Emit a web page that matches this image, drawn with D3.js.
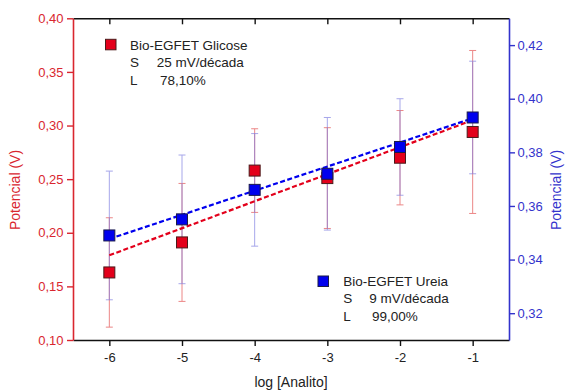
<!DOCTYPE html>
<html>
<head>
<meta charset="utf-8">
<script src="https://cdn.jsdelivr.net/npm/d3@7/dist/d3.min.js"></script>
<style>
  html, body { margin: 0; padding: 0; background: #fff; }
  svg { display: block; font-family: "Liberation Sans", Arial, sans-serif; }
</style>
</head>
<body>
<svg id="chart" width="565" height="391"></svg>
<script>
// ---- data ----
const logConc = [-6, -5, -4, -3, -2, -1];
const glicose = [0.163, 0.191, 0.258, 0.251, 0.270, 0.294];
const glicoseErr = [0.051, 0.055, 0.039, 0.047, 0.044, 0.076];
const ureia = [0.349, 0.355, 0.366, 0.372, 0.382, 0.393];
const ureiaErr = [0.024, 0.024, 0.021, 0.021, 0.018, 0.021];
const fitX = [-6, -1];
const glicoseFit = [0.179, 0.305];
const ureiaFit = [0.3477, 0.3927];
const xTicks = [-6, -5, -4, -3, -2, -1];
const leftTicks = [0.10, 0.15, 0.20, 0.25, 0.30, 0.35, 0.40];
const rightTicks = [0.32, 0.34, 0.36, 0.38, 0.40, 0.42];
const legendGlicose = ["Bio-EGFET Glicose", "S", "25 mV/década", "L", "78,10%"];
const legendUreia = ["Bio-EGFET Ureia", "S", "9 mV/década", "L", "99,00%"];
const xTitle = "log [Analito]";
const yTitle = "Potencial (V)";

// ---- layout ----
const L = 73, R = 509, T = 18.3, B = 340;
const RED = "#e3001b", BLUE = "#0000ee";
const RED_AX = "#d9262f", BLUE_AX = "#3333cc";

const svg = d3.select("#chart");
const x = d3.scaleLinear().domain([-6.5, -0.5]).range([L, R]);
const yL = d3.scaleLinear().domain([0.10, 0.40]).range([B, T]);
const yR = d3.scaleLinear().domain([0.31, 0.43]).range([B, T]);
const fmt = d3.formatLocale({decimal: ",", thousands: ".", grouping: [3], currency: ["", ""]}).format(".2f");

// ---- axes ----
const gB = svg.append("g").attr("transform", `translate(0,${B})`)
  .call(d3.axisBottom(x).tickValues(xTicks).tickSize(6).tickPadding(6.5).tickSizeOuter(0).tickFormat(d3.format("d")));
gB.select(".domain").attr("stroke", "#111").attr("stroke-width", 1.6);
gB.selectAll(".tick line").attr("stroke", "#111").attr("stroke-width", 1.4);
gB.selectAll(".tick text").attr("fill", "#222").attr("font-size", 13).attr("font-family", "Liberation Sans, Arial, sans-serif")
  .text(d => d3.format("d")(d).replace("−", "-"));

const gT = svg.append("g").attr("transform", `translate(0,${T})`)
  .call(d3.axisTop(x).tickValues(xTicks).tickSize(-6).tickSizeOuter(0).tickFormat(""));
gT.select(".domain").attr("stroke", "#111").attr("stroke-width", 1.6);
gT.selectAll(".tick line").attr("stroke", "#111").attr("stroke-width", 1.4);

const gL = svg.append("g").attr("transform", `translate(${L},0)`)
  .call(d3.axisLeft(yL).tickValues(leftTicks).tickSize(6).tickPadding(3.5).tickSizeOuter(0).tickFormat(fmt));
gL.select(".domain").attr("stroke", RED_AX).attr("stroke-width", 1.6);
gL.selectAll(".tick line").attr("stroke", RED_AX).attr("stroke-width", 1.4);
gL.selectAll(".tick text").attr("fill", RED_AX).attr("font-size", 13).attr("font-family", "Liberation Sans, Arial, sans-serif");

const gR = svg.append("g").attr("transform", `translate(${R},0)`)
  .call(d3.axisRight(yR).tickValues(rightTicks).tickSize(6).tickPadding(2.5).tickSizeOuter(0).tickFormat(fmt));
gR.select(".domain").attr("stroke", BLUE_AX).attr("stroke-width", 1.6);
gR.selectAll(".tick line").attr("stroke", BLUE_AX).attr("stroke-width", 1.4);
gR.selectAll(".tick text").attr("fill", BLUE_AX).attr("font-size", 13).attr("font-family", "Liberation Sans, Arial, sans-serif");

// ---- titles ----
svg.append("text").attr("x", 291).attr("y", 386.5).attr("text-anchor", "middle")
  .attr("font-size", 14).attr("fill", "#222").text(xTitle);
svg.append("text").attr("transform", "translate(20,190) rotate(-90)").attr("text-anchor", "middle")
  .attr("font-size", 14).attr("fill", RED_AX).text(yTitle);
svg.append("text").attr("transform", "translate(561,190) rotate(-90)").attr("text-anchor", "middle")
  .attr("font-size", 14).attr("fill", BLUE_AX).text(yTitle);

// ---- error bars ----
function errorBars(vals, errs, ys, color, op) {
  const g = svg.append("g").attr("stroke", color).attr("stroke-width", 1).attr("opacity", op);
  logConc.forEach((c, i) => {
    const cx = x(c), y1 = ys(vals[i] + errs[i]), y0 = ys(vals[i] - errs[i]);
    g.append("line").attr("x1", cx).attr("x2", cx).attr("y1", y1).attr("y2", y0);
    g.append("line").attr("x1", cx - 3.5).attr("x2", cx + 3.5).attr("y1", y1).attr("y2", y1);
    g.append("line").attr("x1", cx - 3.5).attr("x2", cx + 3.5).attr("y1", y0).attr("y2", y0);
  });
}
errorBars(glicose, glicoseErr, yL, "#e86a6a", 0.8);
errorBars(ureia, ureiaErr, yR, "#7a7ae0", 0.65);

// ---- fit lines ----
const lineL = d3.line().x((d, i) => x(fitX[i])).y(d => yL(d));
const lineR = d3.line().x((d, i) => x(fitX[i])).y(d => yR(d));
svg.append("path").attr("d", lineL(glicoseFit)).attr("fill", "none").attr("stroke", RED)
  .attr("stroke-width", 2.2).attr("stroke-dasharray", "5,2.5");
svg.append("path").attr("d", lineR(ureiaFit)).attr("fill", "none").attr("stroke", BLUE)
  .attr("stroke-width", 2.2).attr("stroke-dasharray", "5,2.5");

// ---- markers ----
const S = 12;
svg.append("g").selectAll("rect").data(glicose).join("rect")
  .attr("x", (d, i) => x(logConc[i]) - S / 2 + 0.5).attr("y", d => yL(d) - S / 2 + 0.5)
  .attr("width", S - 1).attr("height", S - 1)
  .attr("fill", RED).attr("stroke", "#4a1a1a").attr("stroke-width", 1);
svg.append("g").selectAll("rect").data(ureia).join("rect")
  .attr("x", (d, i) => x(logConc[i]) - S / 2 + 0.5).attr("y", d => yR(d) - S / 2 + 0.5)
  .attr("width", S - 1).attr("height", S - 1)
  .attr("fill", BLUE).attr("stroke", "#1a1a4a").attr("stroke-width", 1);

// ---- legends ----
function legend(lbl, color, stroke, sx, sy, tx, b0, b1, b2, off1, off2) {
  const g = svg.append("g").attr("font-size", 13.5).attr("fill", "#222");
  g.append("rect").attr("x", sx - 5).attr("y", sy - 5).attr("width", 10.5).attr("height", 10.5)
    .attr("fill", color).attr("stroke", stroke).attr("stroke-width", 1);
  g.append("text").attr("x", tx).attr("y", b0).text(lbl[0]);
  g.append("text").attr("x", tx).attr("y", b1).text(lbl[1]);
  g.append("text").attr("x", tx + off1).attr("y", b1).text(lbl[2]);
  g.append("text").attr("x", tx).attr("y", b2).text(lbl[3]);
  g.append("text").attr("x", tx + off2).attr("y", b2).text(lbl[4]);
}
legend(legendGlicose, RED, "#4a1a1a", 110.5, 44.3, 130, 50, 67, 84.5, 26.7, 30);
legend(legendUreia, BLUE, "#1a1a4a", 323, 281, 343.3, 286, 302.7, 320.7, 26, 28.7);
</script>
</body>
</html>
